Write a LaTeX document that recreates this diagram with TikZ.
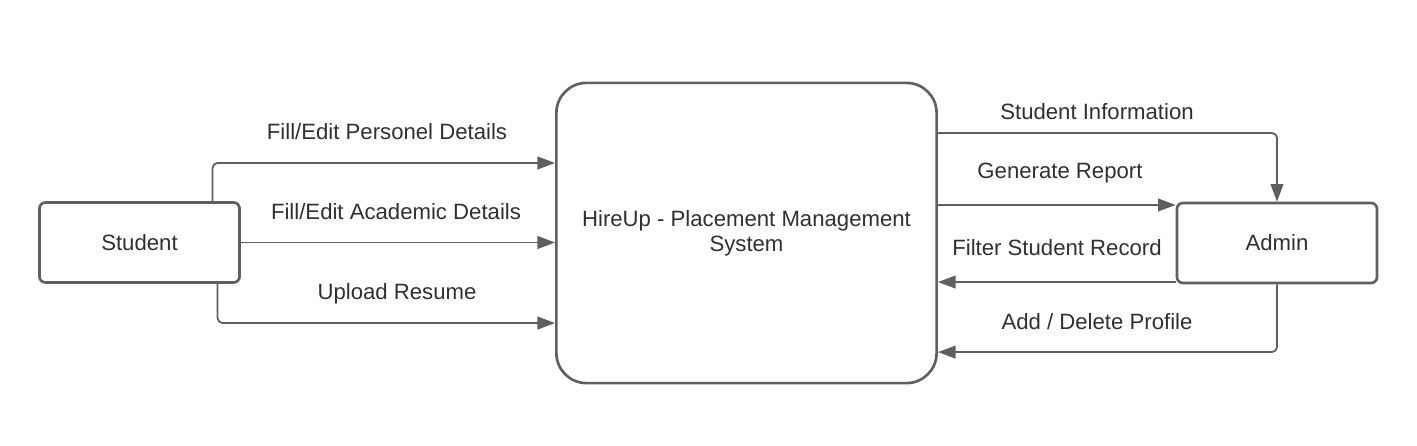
\documentclass[tikz,border=0pt]{standalone}
\usepackage{fontspec}
\setmainfont{Liberation Sans}
\usepackage{xcolor}
\usepackage{tikz}
\usetikzlibrary{arrows.meta,positioning,calc}
\definecolor{linegray}{RGB}{95,95,95}
\definecolor{textgray}{RGB}{48,48,48}

\begin{document}
\begin{tikzpicture}[x=0.01cm,y=-0.01cm,
  every node/.style={font=\fontsize{6.3}{7.6}\selectfont,text=textgray},
  entity/.style={draw=linegray,line width=0.75pt,rounded corners=0.6mm,fill=white,
    minimum width=2.0cm,minimum height=0.8cm,inner sep=0pt},
  hubbox/.style={draw=linegray,line width=0.75pt,rounded corners=3mm,fill=white,
    minimum width=3.8cm,minimum height=3.0cm,align=center,inner sep=0pt},
  flowlabel/.style={text depth=0pt},
  flow/.style={draw=linegray,line width=0.5pt,rounded corners=0.5mm,
    -{Triangle[length=5pt,width=3.6pt]}}]
  \useasboundingbox (0,0) rectangle (1417,445);
  % external entities and the system
  \node[entity] (student) at (139.5,242.5) {Student};
  \node[hubbox] (hub) at (746.5,233) {HireUp - Placement Management\\[-0.5pt]System};
  \node[entity] (admin) at (1277,243) {Admin};
  % student side
  \draw[flow] ([xshift=7.3mm]student.north) |- ([yshift=7mm]hub.west);
  \draw[flow] (student.east) -- (student.east -| hub.west);
  \draw[flow] ([xshift=7.8mm]student.south) |- ([yshift=-9mm]hub.west);
  \node[flowlabel] (lpers) at (387,131) {Fill/Edit Personel Details};
  \node[flowlabel] (lacad) at (396,211) {Fill/Edit Academic Details};
  \node[flowlabel] (lres) at (397,291) {Upload Resume};
  % admin side
  \draw[flow] ([yshift=10mm]hub.east) -| (admin.north);
  \draw[flow] ([yshift=3.8mm]admin.west -| hub.east) -- ([yshift=3.8mm]admin.west);
  \draw[flow] ([yshift=-3.9mm]admin.west) -- ([yshift=-3.9mm]admin.west -| hub.east);
  \draw[flow] (admin.south) |- ([yshift=-11.9mm]hub.east);
  \node[flowlabel] (linfo) at (1097,111) {Student Information};
  \node[flowlabel] (lgen) at (1060,171) {Generate Report};
  \node[flowlabel] (lfilt) at (1057,247) {Filter Student Record};
  \node[flowlabel] (ladd) at (1097,321) {Add / Delete Profile};
\end{tikzpicture}
\end{document}
